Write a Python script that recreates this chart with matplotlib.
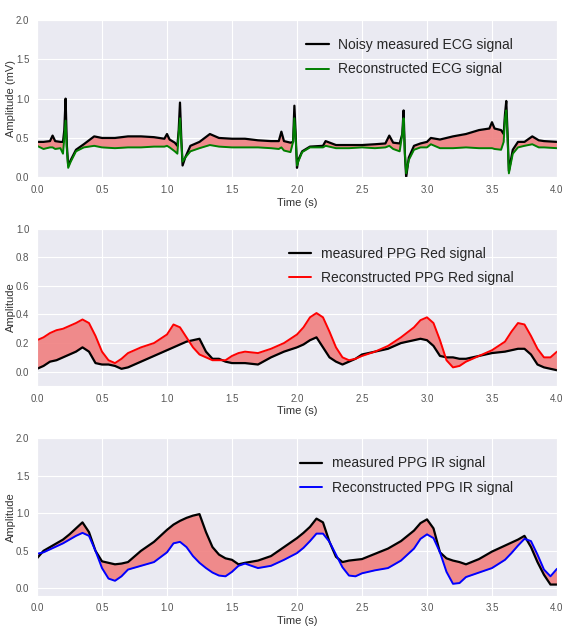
import matplotlib
matplotlib.use("Agg")
import matplotlib.pyplot as plt
import seaborn as sns

# ECG panel (s, mV)
ecg_t = [0.00, 0.05, 0.10, 0.12, 0.14, 0.18, 0.20, 0.21, 0.22, 0.23, 0.24, 0.26, 0.30, 0.36, 0.44,
         0.50, 0.60, 0.70, 0.80, 0.90, 0.98, 1.00, 1.02, 1.06, 1.08, 1.09, 1.10, 1.11, 1.12, 1.14,
         1.18, 1.25, 1.33, 1.40, 1.50, 1.60, 1.70, 1.80, 1.86, 1.88, 1.90, 1.95, 1.97, 1.98, 1.99,
         2.00, 2.01, 2.04, 2.10, 2.20, 2.22, 2.30, 2.40, 2.50, 2.60, 2.68, 2.71, 2.74, 2.79, 2.81,
         2.82, 2.83, 2.84, 2.86, 2.90, 2.95, 3.00, 3.03, 3.10, 3.20, 3.30, 3.40, 3.48, 3.50, 3.52,
         3.57, 3.59, 3.60, 3.61, 3.62, 3.63, 3.66, 3.70, 3.75, 3.81, 3.86, 3.90, 4.00]
ecg_measured = [0.45, 0.45, 0.46, 0.53, 0.46, 0.45, 0.45, 0.60, 1.00, 0.40, 0.15, 0.22, 0.35, 0.42, 0.52,
                0.50, 0.50, 0.52, 0.52, 0.51, 0.49, 0.55, 0.48, 0.44, 0.40, 0.60, 0.95, 0.50, 0.15, 0.25,
                0.40, 0.45, 0.55, 0.50, 0.49, 0.49, 0.47, 0.46, 0.46, 0.58, 0.46, 0.44, 0.45, 0.91, 0.55,
                0.12, 0.22, 0.33, 0.39, 0.40, 0.46, 0.41, 0.41, 0.41, 0.42, 0.43, 0.53, 0.44, 0.43, 0.55,
                0.85, 0.30, 0.00, 0.25, 0.40, 0.43, 0.45, 0.50, 0.48, 0.52, 0.55, 0.60, 0.62, 0.70, 0.62,
                0.60, 0.55, 0.80, 0.97, 0.55, 0.08, 0.35, 0.45, 0.45, 0.52, 0.47, 0.46, 0.45]
ecg_recon = [0.40, 0.36, 0.38, 0.38, 0.36, 0.37, 0.30, 0.50, 0.72, 0.35, 0.12, 0.20, 0.33, 0.38, 0.40,
             0.38, 0.37, 0.38, 0.38, 0.39, 0.39, 0.40, 0.38, 0.33, 0.30, 0.55, 0.75, 0.45, 0.20, 0.25,
             0.33, 0.37, 0.41, 0.39, 0.38, 0.38, 0.38, 0.37, 0.36, 0.38, 0.34, 0.32, 0.45, 0.75, 0.50,
             0.15, 0.20, 0.32, 0.38, 0.38, 0.40, 0.37, 0.37, 0.38, 0.37, 0.38, 0.40, 0.36, 0.33, 0.55,
             0.75, 0.30, 0.05, 0.22, 0.35, 0.38, 0.38, 0.42, 0.37, 0.37, 0.38, 0.37, 0.37, 0.37, 0.36,
             0.35, 0.45, 0.75, 0.85, 0.50, 0.05, 0.30, 0.38, 0.40, 0.42, 0.38, 0.38, 0.37]

# PPG panels share one time base
ppg_t = [0.00, 0.05, 0.10, 0.15, 0.20, 0.25, 0.30, 0.35, 0.40, 0.45, 0.50, 0.55, 0.60, 0.65, 0.70,
         0.80, 0.90, 1.00, 1.05, 1.10, 1.15, 1.20, 1.25, 1.30, 1.35, 1.40, 1.45, 1.50, 1.55, 1.60,
         1.70, 1.80, 1.90, 2.00, 2.05, 2.10, 2.15, 2.20, 2.25, 2.30, 2.35, 2.40, 2.45, 2.50, 2.60,
         2.70, 2.80, 2.90, 2.95, 3.00, 3.05, 3.10, 3.15, 3.20, 3.25, 3.30, 3.40, 3.50, 3.60, 3.65,
         3.70, 3.75, 3.80, 3.85, 3.90, 3.95, 4.00]
red_measured = [0.02, 0.04, 0.07, 0.08, 0.10, 0.12, 0.14, 0.17, 0.14, 0.06, 0.05, 0.05, 0.04, 0.02, 0.03,
                0.07, 0.11, 0.15, 0.17, 0.19, 0.21, 0.22, 0.23, 0.14, 0.09, 0.09, 0.07, 0.06, 0.06, 0.06,
                0.05, 0.10, 0.14, 0.17, 0.19, 0.22, 0.24, 0.17, 0.10, 0.07, 0.05, 0.07, 0.09, 0.12, 0.14,
                0.16, 0.20, 0.22, 0.23, 0.22, 0.18, 0.11, 0.10, 0.10, 0.09, 0.09, 0.11, 0.13, 0.14, 0.15,
                0.16, 0.16, 0.12, 0.05, 0.03, 0.02, 0.01]
red_recon = [0.22, 0.24, 0.27, 0.29, 0.30, 0.32, 0.34, 0.365, 0.34, 0.25, 0.14, 0.08, 0.06, 0.09, 0.13,
             0.17, 0.20, 0.26, 0.33, 0.31, 0.24, 0.17, 0.12, 0.10, 0.08, 0.08, 0.08, 0.11, 0.13, 0.14,
             0.13, 0.16, 0.20, 0.26, 0.31, 0.38, 0.41, 0.38, 0.28, 0.17, 0.10, 0.08, 0.09, 0.11, 0.14,
             0.18, 0.24, 0.31, 0.36, 0.38, 0.34, 0.22, 0.08, 0.03, 0.04, 0.07, 0.11, 0.15, 0.21, 0.28,
             0.34, 0.33, 0.25, 0.16, 0.10, 0.10, 0.14]
ir_measured = [0.40, 0.50, 0.55, 0.60, 0.65, 0.72, 0.80, 0.88, 0.75, 0.50, 0.36, 0.34, 0.32, 0.33, 0.35,
               0.50, 0.62, 0.78, 0.85, 0.90, 0.94, 0.97, 0.99, 0.75, 0.55, 0.45, 0.40, 0.38, 0.32, 0.34,
               0.37, 0.43, 0.55, 0.67, 0.74, 0.82, 0.93, 0.88, 0.62, 0.42, 0.35, 0.37, 0.38, 0.39, 0.46,
               0.53, 0.63, 0.77, 0.87, 0.92, 0.80, 0.48, 0.40, 0.37, 0.35, 0.32, 0.39, 0.49, 0.57, 0.61,
               0.65, 0.70, 0.55, 0.35, 0.18, 0.05, 0.05]
ir_recon = [0.46, 0.48, 0.52, 0.56, 0.60, 0.65, 0.70, 0.74, 0.70, 0.50, 0.27, 0.13, 0.10, 0.16, 0.25,
            0.30, 0.35, 0.48, 0.60, 0.62, 0.55, 0.43, 0.34, 0.27, 0.21, 0.17, 0.16, 0.22, 0.30, 0.33,
            0.27, 0.30, 0.38, 0.47, 0.54, 0.63, 0.73, 0.73, 0.62, 0.45, 0.28, 0.17, 0.16, 0.20, 0.24,
            0.27, 0.37, 0.53, 0.66, 0.72, 0.67, 0.48, 0.22, 0.06, 0.07, 0.15, 0.21, 0.27, 0.38, 0.47,
            0.57, 0.66, 0.63, 0.45, 0.25, 0.16, 0.26]

sns.set_style("darkgrid")
plt.rcParams["font.family"] = ["Liberation Sans"]

fig = plt.figure(figsize=(5.63, 6.28), dpi=100)

panels = [
    (ecg_t, ecg_measured, ecg_recon, "green", "Noisy measured ECG signal",
     "Reconstructed ECG signal", "Amplitude (mV)", (0, 2.0), [0.0, 0.5, 1.0, 1.5, 2.0], 0.7177),
    (ppg_t, red_measured, red_recon, "red", "measured PPG Red signal",
     "Reconstructed PPG Red signal", "Amplitude", (-0.1, 1.0), [0.0, 0.2, 0.4, 0.6, 0.8, 1.0], 0.3854),
    (ppg_t, ir_measured, ir_recon, "blue", "measured PPG IR signal",
     "Reconstructed PPG IR signal", "Amplitude", (-0.1, 2.0), [0.0, 0.5, 1.0, 1.5, 2.0], 0.0513),
]

for t, meas, rec, col, lab1, lab2, ylab, ylim, yticks, bottom in panels:
    ax = fig.add_axes([0.0657, bottom, 0.9236, 0.2505])
    ax.fill_between(t, meas, rec, color="lightcoral", alpha=0.9, linewidth=0)
    ax.plot(t, meas, color="black", linewidth=1.6, label=lab1)
    ax.plot(t, rec, color=col, linewidth=1.4, label=lab2)
    ax.set_xlim(0, 4.0)
    ax.set_ylim(*ylim)
    ax.set_yticks(yticks)
    ax.set_xticks([0.0, 0.5, 1.0, 1.5, 2.0, 2.5, 3.0, 3.5, 4.0])
    ax.tick_params(labelsize=7, colors="#555555", pad=2)
    ax.set_xlabel("Time (s)", fontsize=8, color="#333333", labelpad=2)
    ax.set_ylabel(ylab, fontsize=8, color="#333333", labelpad=0)
    ax.legend(loc="upper right", bbox_to_anchor=(0.94, 0.965), frameon=False,
              fontsize=10, handlelength=1.6, handletextpad=0.7, labelspacing=0.75)

fig.savefig("out.png", dpi=100, facecolor="white")
